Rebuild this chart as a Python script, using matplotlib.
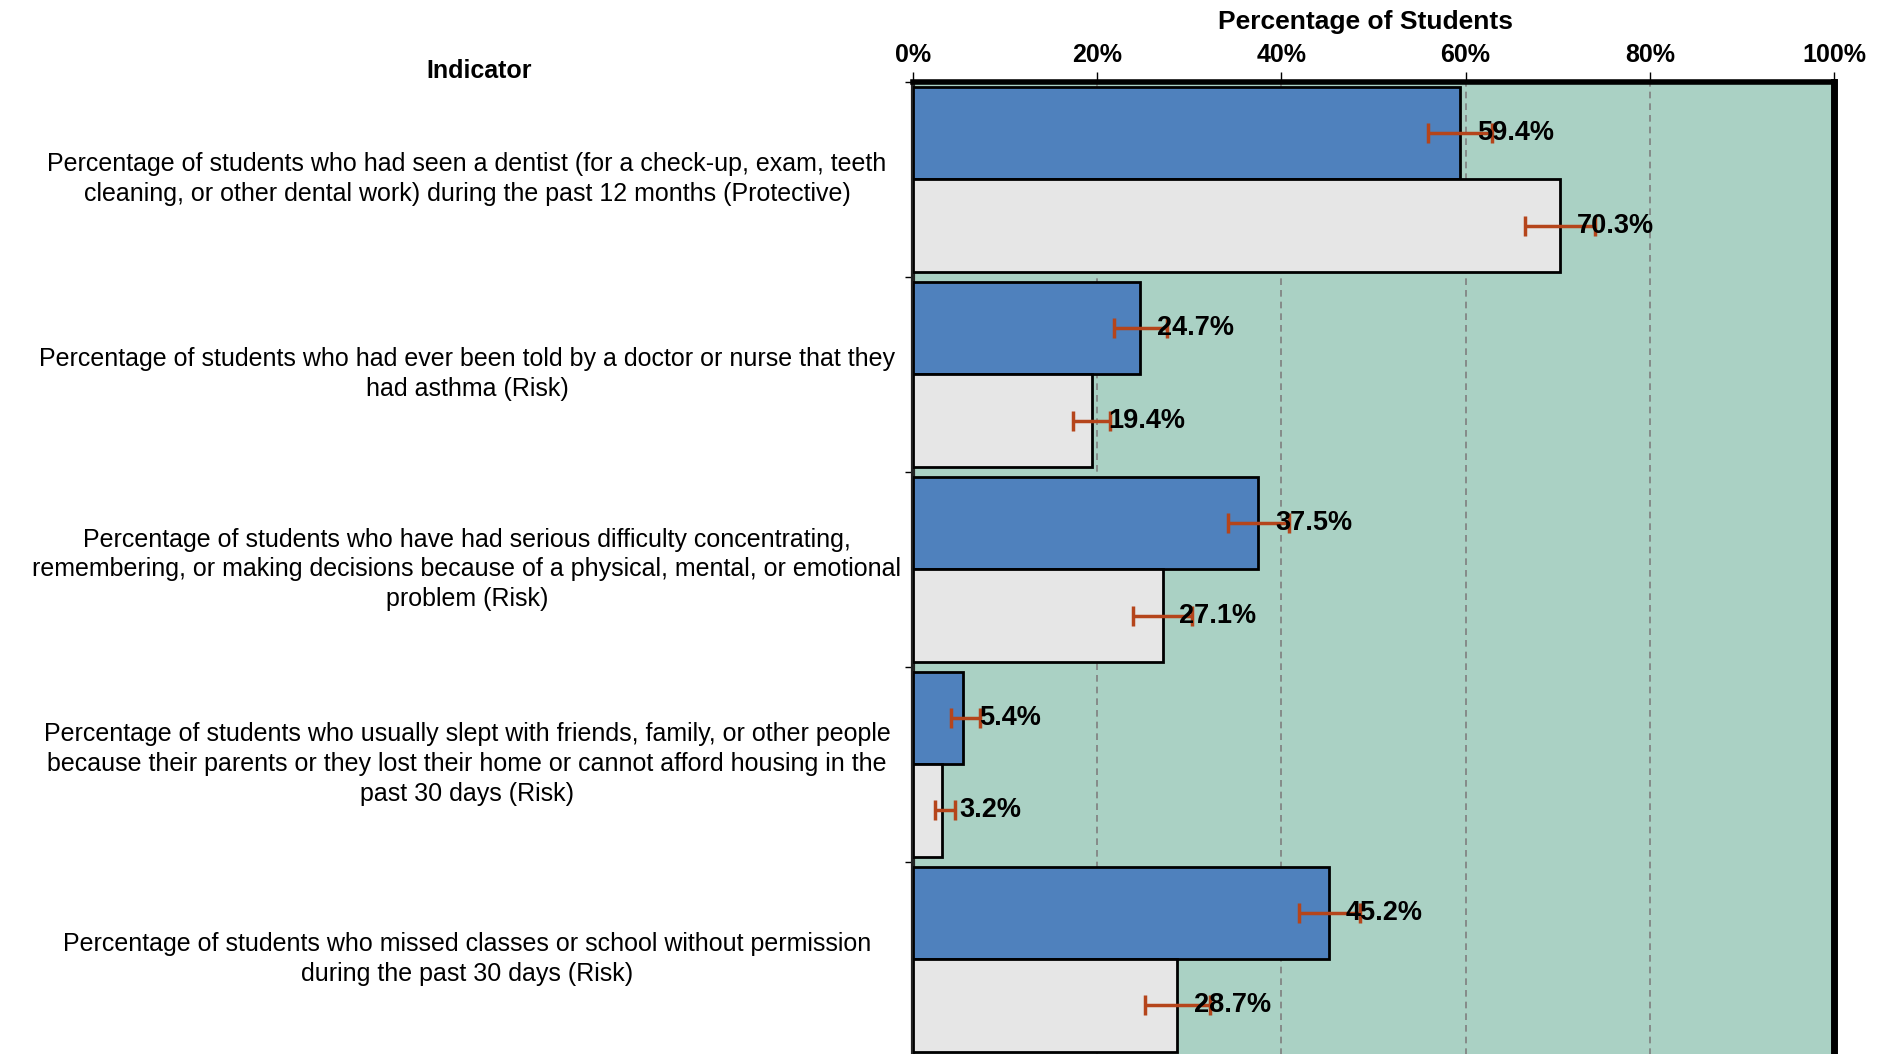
"""
Student health indicators: horizontal paired bars with confidence intervals
"""

import numpy as np
import matplotlib
matplotlib.use('Agg')
import matplotlib.pyplot as plt
from matplotlib.transforms import blended_transform_factory

# ---- data ----
indicators = [
    "Percentage of students who had seen a dentist (for a check-up, exam, teeth\n"
    "cleaning, or other dental work) during the past 12 months (Protective)",
    "Percentage of students who had ever been told by a doctor or nurse that they\n"
    "had asthma (Risk)",
    "Percentage of students who have had serious difficulty concentrating,\n"
    "remembering, or making decisions because of a physical, mental, or emotional\n"
    "problem (Risk)",
    "Percentage of students who usually slept with friends, family, or other people\n"
    "because their parents or they lost their home or cannot afford housing in the\n"
    "past 30 days (Risk)",
    "Percentage of students who missed classes or school without permission\n"
    "during the past 30 days (Risk)",
]
blue_vals = [59.4, 24.7, 37.5, 5.4, 45.2]
blue_lo = [55.9, 21.8, 34.2, 4.1, 41.9]
blue_hi = [62.9, 27.6, 40.8, 7.3, 48.5]
gray_vals = [70.3, 19.4, 27.1, 3.2, 28.7]
gray_lo = [66.5, 17.4, 23.9, 2.4, 25.2]
gray_hi = [74.1, 21.4, 30.3, 4.6, 32.2]
x_ticks = [0, 20, 40, 60, 80, 100]
x_ticklabels = ['0%', '20%', '40%', '60%', '80%', '100%']

BLUE = '#4F81BD'
GRAY = '#E6E6E6'
BG = '#AAD1C4'
ERR = '#B5451B'

plt.rcParams['font.family'] = ['Liberation Sans', 'DejaVu Sans']

fig = plt.figure(figsize=(18.87, 10.54), dpi=100)
W, H = 1887, 1054
ax = fig.add_axes([913 / W, (H - 1056.6) / H, (1834 - 913) / W, (1056.6 - 81.8) / H])
ax.set_facecolor(BG)

y = np.arange(len(indicators))
h = 0.475
yb = y - h / 2
yg = y + h / 2

ax.barh(yb, blue_vals, height=h, color=BLUE, edgecolor='black', linewidth=2, zorder=3)
ax.barh(yg, gray_vals, height=h, color=GRAY, edgecolor='black', linewidth=2, zorder=3)

for yy, v, lo, hi in [(yb, blue_vals, blue_lo, blue_hi), (yg, gray_vals, gray_lo, gray_hi)]:
    v = np.array(v)
    xerr = [v - np.array(lo), np.array(hi) - v]
    ax.errorbar(v, yy, xerr=xerr, fmt='none', ecolor=ERR, elinewidth=2.5,
                capsize=7, capthick=2.5, zorder=4)
    for val, yv in zip(v, yy):
        ax.annotate(f'{val:.1f}%', (val, yv), xytext=(12, 0), textcoords='offset points',
                    ha='left', va='center', fontsize=19.5, fontweight='bold', zorder=5)

ax.set_xlim(0, 100)
ax.set_ylim(len(indicators) - 0.5, -0.5)

ax.xaxis.tick_top()
ax.set_xticks(x_ticks)
ax.set_xticklabels(x_ticklabels, fontsize=18, fontweight='bold')
ax.tick_params(axis='x', direction='out', length=7, width=1, pad=4)
ax.set_yticks(np.arange(-0.5, len(indicators) + 0.5, 1.0))
ax.set_yticklabels([])
ax.tick_params(axis='y', direction='out', length=6, width=1)

ax.grid(axis='x', color='#7F7F7F', linestyle=(0, (4, 3)), linewidth=1.2, zorder=1)
ax.set_axisbelow(True)

ax.spines['top'].set_linewidth(4)
ax.spines['right'].set_linewidth(5)
ax.spines['left'].set_linewidth(3)
ax.spines['left'].set_color('#222222')
ax.spines['bottom'].set_visible(False)

# category labels on the left
trans = blended_transform_factory(fig.transFigure, ax.transData)
for i, label in enumerate(indicators):
    ax.text(467 / W, i, label, transform=trans, ha='center', va='center',
            fontsize=18, linespacing=1.3, multialignment='center')

fig.text(479 / W, 1 - 71 / H, 'Indicator', ha='center', va='center',
         fontsize=18, fontweight='bold')
fig.text(1366 / W, 1 - 22.5 / H, 'Percentage of Students', ha='center', va='center',
         fontsize=19, fontweight='bold')

fig.savefig('out.png', dpi=100)
